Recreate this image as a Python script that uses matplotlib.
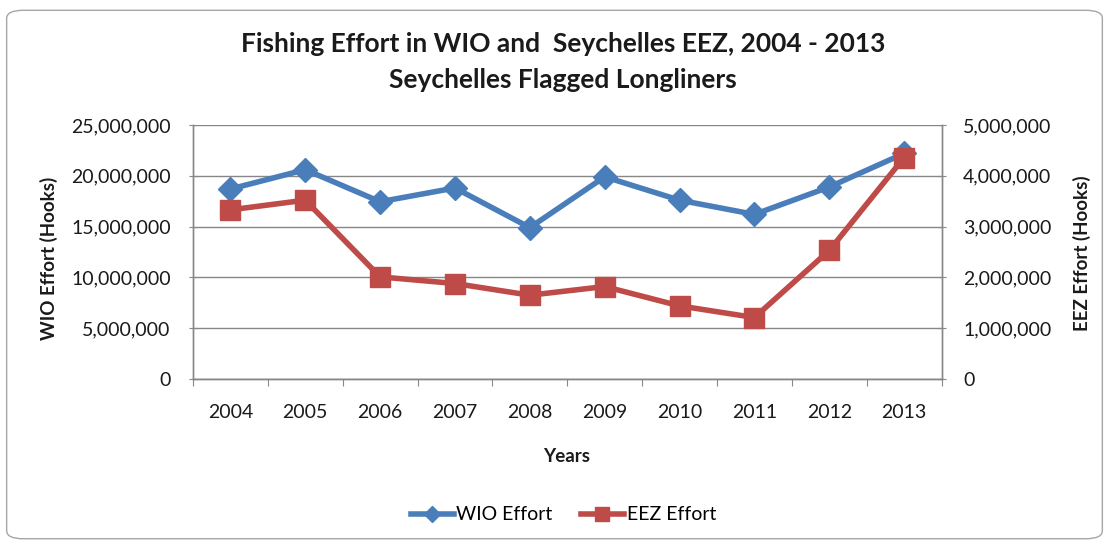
import matplotlib.pyplot as plt
from matplotlib.patches import FancyBboxPatch
from matplotlib.ticker import FuncFormatter, FixedLocator

plt.rcParams['font.family'] = ['Lato', 'DejaVu Sans']

# === Data ===
years = ['2004', '2005', '2006', '2007', '2008', '2009', '2010', '2011', '2012', '2013']
wio_effort = [18.7e6, 20.6e6, 17.45e6, 18.8e6, 14.9e6, 19.9e6, 17.6e6, 16.2e6, 18.9e6, 22.2e6]
eez_effort = [3.33e6, 3.52e6, 2.01e6, 1.88e6, 1.65e6, 1.82e6, 1.44e6, 1.21e6, 2.53e6, 4.36e6]

blue = '#4A7EBB'
red = '#BE4B48'
grid_col = '#878787'
txt = '#1a1a1a'
fs = 14

fig = plt.figure(figsize=(11.09, 5.42), dpi=100)

# rounded chart border
border = FancyBboxPatch((0.006, 0.006), 0.988, 0.975, boxstyle="round,pad=0,rounding_size=0.015",
                        transform=fig.transFigure, facecolor='none', edgecolor='#a6a6a6',
                        linewidth=1.0, zorder=-1)
fig.patches.append(border)

ax = fig.add_axes([0.174, 0.3007, 0.675, 0.4687])
ax2 = ax.twinx()

x = list(range(1, len(years) + 1))

ax.plot(x, wio_effort, color=blue, linewidth=4, marker='D', markersize=12, zorder=3)
ax2.plot(x, eez_effort, color=red, linewidth=4, marker='s', markersize=14, zorder=3)

ax.set_xlim(0.5, len(years) + 0.5)
ax.set_ylim(0, 25e6)
ax2.set_ylim(0, 5e6)
ax.set_yticks([0, 5e6, 10e6, 15e6, 20e6, 25e6])
ax2.set_yticks([0, 1e6, 2e6, 3e6, 4e6, 5e6])

fmt = FuncFormatter(lambda v, p: f"{int(v):,}")
ax.yaxis.set_major_formatter(fmt)
ax2.yaxis.set_major_formatter(fmt)

# category boundaries as major ticks, labels at centres
ax.xaxis.set_major_locator(FixedLocator([i + 0.5 for i in range(0, len(years) + 1)]))
ax.set_xticklabels([])
ax.xaxis.set_minor_locator(FixedLocator(x))
ax.set_xticklabels(years, minor=True)
ax.tick_params(axis='x', which='major', length=5, color=grid_col, direction='out')
ax.tick_params(axis='x', which='minor', length=0, labelsize=fs, labelcolor=txt, pad=18)

ax.tick_params(axis='y', length=6, direction='inout', color=grid_col, labelsize=fs, labelcolor=txt, pad=13)
ax2.tick_params(axis='y', length=6, direction='inout', color=grid_col, labelsize=fs, labelcolor=txt, pad=12.5)

ax.grid(axis='y', color=grid_col, linewidth=1.0)
ax.set_axisbelow(True)

for a in (ax, ax2):
    a.spines['top'].set_visible(False)
    for s in ('left', 'right', 'bottom'):
        a.spines[s].set_color(grid_col)
        a.spines[s].set_linewidth(1.0)

# axis titles
fig.text(49 / 1109, 1 - 258 / 542, 'WIO Effort (Hooks)', rotation=90, ha='center', va='center',
         fontsize=13.5, fontweight='bold', color=txt)
fig.text(1082 / 1109, 1 - 253 / 542, 'EEZ Effort (Hooks)', rotation=90, ha='center', va='center',
         fontsize=13.5, fontweight='bold', color=txt)
fig.text(567 / 1109, 1 - 456 / 542, 'Years', ha='center', va='center',
         fontsize=13.5, fontweight='bold', color=txt)

fig.text(0.508, 0.918, 'Fishing Effort in WIO and  Seychelles EEZ, 2004 - 2013',
         ha='center', va='center', fontsize=19, fontweight='bold', color=txt)
fig.text(0.508, 0.853, 'Seychelles Flagged Longliners',
         ha='center', va='center', fontsize=19, fontweight='bold', color=txt)

# legend
h1, = ax.plot([], [], color=blue, linewidth=4, marker='D', markersize=8)
h2, = ax.plot([], [], color=red, linewidth=4, marker='s', markersize=10)
fig.legend([h1, h2], ['WIO Effort', 'EEZ Effort'], loc='center', bbox_to_anchor=(0.508, 0.05),
           ncol=2, frameon=False, fontsize=fs, handlelength=2.2, handletextpad=0.15, columnspacing=1.45)

fig.savefig('out.png', dpi=100)
